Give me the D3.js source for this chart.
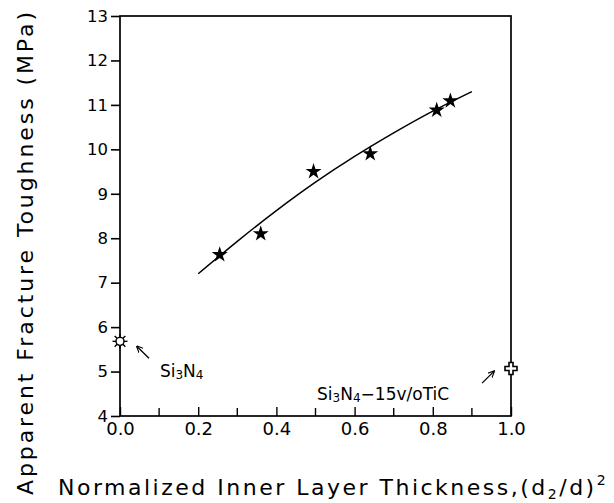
<!DOCTYPE html>
<html>
<head>
<meta charset="utf-8">
<script src="https://cdn.jsdelivr.net/npm/d3@7"></script>
<style>
  body { margin: 0; background: #fff; }
  text { font-family: "DejaVu Sans", sans-serif; fill: #000; }
</style>
</head>
<body>
<div id="chart"></div>
<script>
// measured points (star markers)
const thickness = [0.255, 0.36, 0.495, 0.64, 0.81, 0.845];
const toughness = [7.63, 8.1, 9.5, 9.9, 10.88, 11.09];

// fitted trend line
const fitX = [0.2, 0.3, 0.4, 0.5, 0.6, 0.7, 0.8, 0.9];
const fitY = [7.2, 7.93, 8.62, 9.26, 9.84, 10.37, 10.86, 11.3];

// reference materials
const si3n4 = { x: 0.0, y: 5.68 };
const si3n4Tic = { x: 1.0, y: 5.07 };

const yTicks = [4, 5, 6, 7, 8, 9, 10, 11, 12, 13];
const xMajor = [0, 0.2, 0.4, 0.6, 0.8, 1.0];
const xMinor = [0.1, 0.3, 0.5, 0.7, 0.9];

const width = 614, height = 503;
const margin = { top: 16, right: 103, bottom: 87, left: 120 };

const svg = d3
  .select("#chart")
  .append("svg")
  .attr("width", width)
  .attr("height", height);

const x = d3.scaleLinear().domain([0, 1]).range([margin.left, width - margin.right]);
const y = d3.scaleLinear().domain([4, 13]).range([height - margin.bottom, margin.top]);

svg
  .append("defs")
  .append("marker")
  .attr("id", "arrow")
  .attr("viewBox", "0 -5 10 10")
  .attr("refX", 9)
  .attr("refY", 0)
  .attr("markerWidth", 7)
  .attr("markerHeight", 7)
  .attr("markerUnits", "userSpaceOnUse")
  .attr("orient", "auto")
  .append("path")
  .attr("d", "M0,-4.5L10,0L0,4.5")
  .attr("fill", "none")
  .attr("stroke", "#000")
  .attr("stroke-width", 1.6);

// frame
svg
  .append("rect")
  .attr("x", x(0))
  .attr("y", y(13))
  .attr("width", x(1) - x(0))
  .attr("height", y(4) - y(13))
  .attr("fill", "none")
  .attr("stroke", "#000")
  .attr("stroke-width", 1.7);

// y axis
const yAxis = svg
  .append("g")
  .attr("transform", `translate(${x(0)},0)`)
  .call(d3.axisLeft(y).tickValues(yTicks).tickSize(9).tickPadding(3).tickFormat(d3.format("d")));
yAxis.select(".domain").remove();
yAxis.selectAll("line").attr("stroke-width", 1.6);
yAxis.selectAll("text").style("font-size", "16.5px").attr("font-family", null);

// x axis, ticks pointing inward
const xAxis = svg
  .append("g")
  .attr("transform", `translate(0,${y(4)})`)
  .call(d3.axisBottom(x).tickValues(xMajor).tickSize(-9).tickPadding(6).tickFormat(d3.format(".1f")));
xAxis.select(".domain").remove();
xAxis.selectAll("line").attr("stroke-width", 1.4);
xAxis.selectAll("text").style("font-size", "18px").attr("font-family", null);

svg
  .append("g")
  .selectAll("line")
  .data(xMinor)
  .join("line")
  .attr("x1", (d) => x(d))
  .attr("x2", (d) => x(d))
  .attr("y1", y(4))
  .attr("y2", y(4) - 8)
  .attr("stroke", "#000")
  .attr("stroke-width", 1.4);

// fit curve
const fitLine = d3
  .line()
  .x((d, i) => x(fitX[i]))
  .y((d) => y(d))
  .curve(d3.curveNatural);

svg
  .append("path")
  .attr("d", fitLine(fitY))
  .attr("fill", "none")
  .attr("stroke", "#000")
  .attr("stroke-width", 1.5);

// stars
svg
  .append("g")
  .selectAll("path")
  .data(thickness)
  .join("path")
  .attr("d", d3.symbol(d3.symbolStar, 80))
  .attr("transform", (d, i) => `translate(${x(d)},${y(toughness[i])})`)
  .attr("fill", "#000");

// Si3N4 open sun marker
const sun = svg.append("g").attr("transform", `translate(${x(si3n4.x)},${y(si3n4.y)})`);
d3.range(8).forEach((k) => {
  const a = (k * Math.PI) / 4;
  sun
    .append("line")
    .attr("x1", 3.5 * Math.cos(a))
    .attr("y1", 3.5 * Math.sin(a))
    .attr("x2", 7.5 * Math.cos(a))
    .attr("y2", 7.5 * Math.sin(a))
    .attr("stroke", "#000")
    .attr("stroke-width", 1.4);
});
sun.append("circle").attr("r", 4).attr("fill", "#fff").attr("stroke", "#000").attr("stroke-width", 1.4);

// Si3N4-TiC open cross
svg
  .append("path")
  .attr("d", d3.symbol(d3.symbolCross, 80))
  .attr("transform", `translate(${x(si3n4Tic.x)},${y(si3n4Tic.y)})`)
  .attr("fill", "#fff")
  .attr("stroke", "#000")
  .attr("stroke-width", 1.6);

// annotations
const arrows = [
  { x1: 0.074, y1: 5.3, x2: 0.043, y2: 5.57 },
  { x1: 0.926, y1: 4.74, x2: 0.957, y2: 5.01 }
];
svg
  .append("g")
  .selectAll("line")
  .data(arrows)
  .join("line")
  .attr("x1", (d) => x(d.x1))
  .attr("y1", (d) => y(d.y1))
  .attr("x2", (d) => x(d.x2))
  .attr("y2", (d) => y(d.y2))
  .attr("stroke", "#000")
  .attr("stroke-width", 1.3)
  .attr("marker-end", "url(#arrow)");

const formula = (sel, tail) => {
  sel.append("tspan").text("Si");
  sel.append("tspan").text("3").style("font-size", "12px").attr("dy", 2);
  sel.append("tspan").text("N").attr("dy", -2);
  sel.append("tspan").text("4").style("font-size", "12px").attr("dy", 2);
  if (tail) sel.append("tspan").text(tail).attr("dy", -2);
};

svg
  .append("text")
  .attr("x", x(0.102))
  .attr("y", y(4.88))
  .style("font-size", "17px")
  .call(formula);

svg
  .append("text")
  .attr("x", x(0.504))
  .attr("y", y(4.36))
  .style("font-size", "17px")
  .call(formula, "\u221215v/oTiC");

// axis titles
svg
  .append("text")
  .attr("transform", `translate(33,495) rotate(-90)`)
  .attr("textLength", 483)
  .attr("lengthAdjust", "spacing")
  .style("font-size", "22px")
  .text("Apparent Fracture Toughness (MPa)");

const xTitle = svg
  .append("text")
  .attr("x", 58)
  .attr("y", 495)
  .style("font-size", "22px")
  .style("letter-spacing", "2.5px");
xTitle.append("tspan").text("Normalized Inner Layer Thickness,(d");
xTitle.append("tspan").text("2").style("font-size", "14px").attr("dy", 4);
xTitle.append("tspan").text("/d)").attr("dy", -4);
xTitle.append("tspan").text("2").style("font-size", "14px").attr("dy", -10);
</script>
</body>
</html>
